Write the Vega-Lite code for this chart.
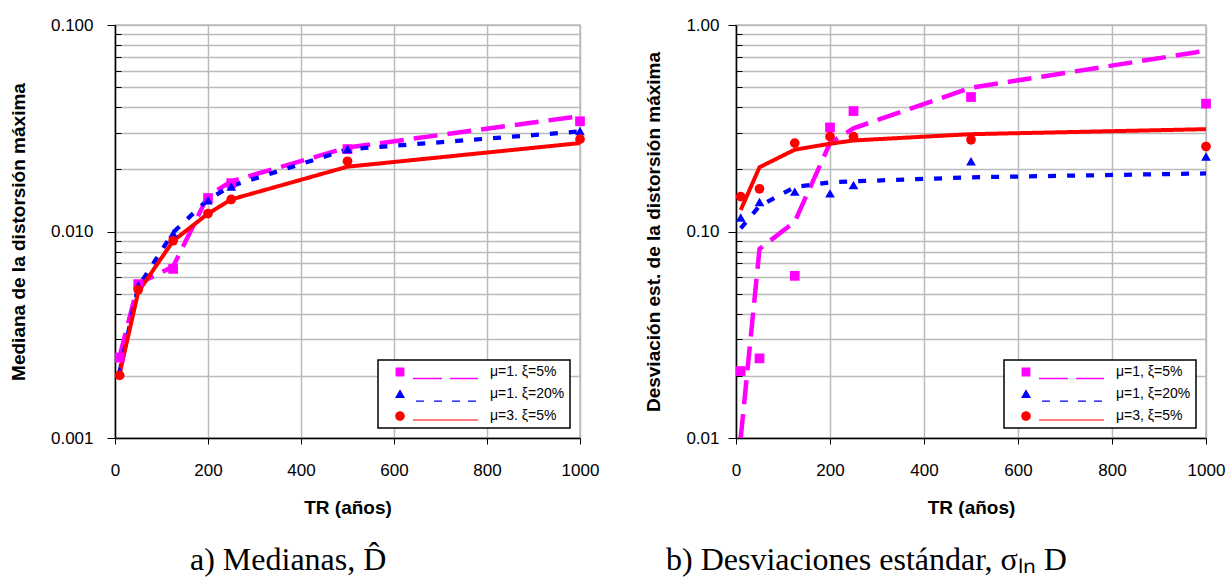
{
  "$schema": "https://vega.github.io/schema/vega-lite/v6.json",
  "padding": {"left": 8, "top": 15, "right": 3, "bottom": 0},
  "background": "white",
  "config": {
    "font": "Liberation Sans",
    "view": {"stroke": "#bbbbbb", "strokeWidth": 1.5},
    "axis": {
      "labelFont": "Liberation Sans", "labelFontSize": 17, "labelColor": "black",
      "titleFont": "Liberation Sans", "titleFontSize": 19, "titleFontWeight": "bold", "titleColor": "black",
      "gridColor": "#bbbbbb", "gridWidth": 1.5, "gridOpacity": 1,
      "domainColor": "black", "domainWidth": 1.5, "tickColor": "black", "tickWidth": 1, "tickSize": 6
    },
    "legend": {
      "orient": "bottom-right", "offset": 10, "strokeColor": "black", "strokeWidth": 1.5, "fillColor": "white",
      "padding": 5, "symbolSize": 64, "symbolOffset": 10, "labelOffset": 83,
      "labelFont": "Liberation Sans", "labelFontSize": 14, "labelColor": "black", "rowPadding": 7, "symbolOpacity": 1, "symbolStrokeWidth": 0
    }
  },
  "datasets": {
    "la": [
      {"s": "μ=1. ξ=5%", "x": 10, "y": 0.00249}, {"s": "μ=1. ξ=5%", "x": 50, "y": 0.0056}, {"s": "μ=1. ξ=5%", "x": 125, "y": 0.00676}, {"s": "μ=1. ξ=5%", "x": 200, "y": 0.0149}, {"s": "μ=1. ξ=5%", "x": 250, "y": 0.0175}, {"s": "μ=1. ξ=5%", "x": 500, "y": 0.0255}, {"s": "μ=1. ξ=5%", "x": 1000, "y": 0.0362},
      {"s": "μ=1. ξ=20%", "x": 10, "y": 0.0021}, {"s": "μ=1. ξ=20%", "x": 50, "y": 0.0054}, {"s": "μ=1. ξ=20%", "x": 125, "y": 0.0099}, {"s": "μ=1. ξ=20%", "x": 200, "y": 0.0143}, {"s": "μ=1. ξ=20%", "x": 250, "y": 0.0166}, {"s": "μ=1. ξ=20%", "x": 500, "y": 0.025}, {"s": "μ=1. ξ=20%", "x": 1000, "y": 0.0305},
      {"s": "μ=3. ξ=5%", "x": 10, "y": 0.00205}, {"s": "μ=3. ξ=5%", "x": 50, "y": 0.0051}, {"s": "μ=3. ξ=5%", "x": 125, "y": 0.009}, {"s": "μ=3. ξ=5%", "x": 200, "y": 0.0122}, {"s": "μ=3. ξ=5%", "x": 250, "y": 0.0143}, {"s": "μ=3. ξ=5%", "x": 500, "y": 0.0206}, {"s": "μ=3. ξ=5%", "x": 1000, "y": 0.0268}
    ],
    "pa": [
      {"s": "μ=1. ξ=5%", "x": 10, "y": 0.00245}, {"s": "μ=1. ξ=5%", "x": 50, "y": 0.00556}, {"s": "μ=1. ξ=5%", "x": 125, "y": 0.00659}, {"s": "μ=1. ξ=5%", "x": 200, "y": 0.01452}, {"s": "μ=1. ξ=5%", "x": 250, "y": 0.01714}, {"s": "μ=1. ξ=5%", "x": 500, "y": 0.02506}, {"s": "μ=1. ξ=5%", "x": 1000, "y": 0.0342},
      {"s": "μ=1. ξ=20%", "x": 10, "y": 0.0021}, {"s": "μ=1. ξ=20%", "x": 50, "y": 0.00548}, {"s": "μ=1. ξ=20%", "x": 125, "y": 0.00978}, {"s": "μ=1. ξ=20%", "x": 200, "y": 0.01415}, {"s": "μ=1. ξ=20%", "x": 250, "y": 0.01652}, {"s": "μ=1. ξ=20%", "x": 500, "y": 0.0251}, {"s": "μ=1. ξ=20%", "x": 1000, "y": 0.0307},
      {"s": "μ=3. ξ=5%", "x": 10, "y": 0.00201}, {"s": "μ=3. ξ=5%", "x": 50, "y": 0.00522}, {"s": "μ=3. ξ=5%", "x": 125, "y": 0.00902}, {"s": "μ=3. ξ=5%", "x": 200, "y": 0.01222}, {"s": "μ=3. ξ=5%", "x": 250, "y": 0.01429}, {"s": "μ=3. ξ=5%", "x": 500, "y": 0.02188}, {"s": "μ=3. ξ=5%", "x": 1000, "y": 0.028}
    ],
    "lb": [
      {"s": "μ=1, ξ=5%", "x": 10, "y": 0.01}, {"s": "μ=1, ξ=5%", "x": 50, "y": 0.0824}, {"s": "μ=1, ξ=5%", "x": 125, "y": 0.1115}, {"s": "μ=1, ξ=5%", "x": 200, "y": 0.268}, {"s": "μ=1, ξ=5%", "x": 250, "y": 0.316}, {"s": "μ=1, ξ=5%", "x": 500, "y": 0.497}, {"s": "μ=1, ξ=5%", "x": 1000, "y": 0.75},
      {"s": "μ=1, ξ=20%", "x": 10, "y": 0.1035}, {"s": "μ=1, ξ=20%", "x": 50, "y": 0.133}, {"s": "μ=1, ξ=20%", "x": 125, "y": 0.164}, {"s": "μ=1, ξ=20%", "x": 200, "y": 0.173}, {"s": "μ=1, ξ=20%", "x": 250, "y": 0.175}, {"s": "μ=1, ξ=20%", "x": 500, "y": 0.183}, {"s": "μ=1, ξ=20%", "x": 1000, "y": 0.191},
      {"s": "μ=3, ξ=5%", "x": 10, "y": 0.127}, {"s": "μ=3, ξ=5%", "x": 50, "y": 0.2047}, {"s": "μ=3, ξ=5%", "x": 125, "y": 0.249}, {"s": "μ=3, ξ=5%", "x": 200, "y": 0.266}, {"s": "μ=3, ξ=5%", "x": 250, "y": 0.276}, {"s": "μ=3, ξ=5%", "x": 500, "y": 0.296}, {"s": "μ=3, ξ=5%", "x": 1000, "y": 0.313}
    ],
    "pb": [
      {"s": "μ=1, ξ=5%", "x": 10, "y": 0.0211}, {"s": "μ=1, ξ=5%", "x": 50, "y": 0.0243}, {"s": "μ=1, ξ=5%", "x": 125, "y": 0.061}, {"s": "μ=1, ξ=5%", "x": 200, "y": 0.319}, {"s": "μ=1, ξ=5%", "x": 250, "y": 0.383}, {"s": "μ=1, ξ=5%", "x": 500, "y": 0.448}, {"s": "μ=1, ξ=5%", "x": 1000, "y": 0.416},
      {"s": "μ=1, ξ=20%", "x": 10, "y": 0.117}, {"s": "μ=1, ξ=20%", "x": 50, "y": 0.139}, {"s": "μ=1, ξ=20%", "x": 125, "y": 0.156}, {"s": "μ=1, ξ=20%", "x": 200, "y": 0.153}, {"s": "μ=1, ξ=20%", "x": 250, "y": 0.168}, {"s": "μ=1, ξ=20%", "x": 500, "y": 0.219}, {"s": "μ=1, ξ=20%", "x": 1000, "y": 0.231},
      {"s": "μ=3, ξ=5%", "x": 10, "y": 0.1475}, {"s": "μ=3, ξ=5%", "x": 50, "y": 0.161}, {"s": "μ=3, ξ=5%", "x": 125, "y": 0.268}, {"s": "μ=3, ξ=5%", "x": 200, "y": 0.288}, {"s": "μ=3, ξ=5%", "x": 250, "y": 0.288}, {"s": "μ=3, ξ=5%", "x": 500, "y": 0.278}, {"s": "μ=3, ξ=5%", "x": 1000, "y": 0.258}
    ]
  },
  "hconcat": [
    {
      "width": 465, "height": 413,
      "title": {"text": "a) Medianas, D̂", "orient": "bottom", "anchor": "start", "frame": "group", "dx": 75, "offset": 28, "font": "Liberation Serif", "fontSize": 32, "fontWeight": "normal", "color": "black"},
      "encoding": {
        "x": {"field": "x", "type": "quantitative", "scale": {"domain": [0, 1000], "nice": false},
          "axis": {"values": [0, 200, 400, 600, 800, 1000], "format": "d", "title": "TR (años)", "labelPadding": 18, "titlePadding": 20, "labelFlush": false}},
        "y": {"field": "y", "type": "quantitative", "scale": {"type": "log", "domain": [0.001, 0.1], "nice": false},
          "axis": {"values": [0.001, 0.002, 0.003, 0.004, 0.005, 0.006, 0.007, 0.008, 0.009, 0.01, 0.02, 0.03, 0.04, 0.05, 0.06, 0.07, 0.08, 0.09, 0.1],
            "format": ".3f", "labelExpr": "abs(log(datum.value)/LN10 - round(log(datum.value)/LN10)) < 0.001 ? datum.label : ''",
            "tickSize": {"condition": {"test": "abs(log(datum.value)/LN10 - round(log(datum.value)/LN10)) < 0.001", "value": 8}, "value": -6},
            "title": "Mediana de la distorsión máxima", "labelPadding": 14, "titlePadding": 22, "labelOverlap": false}}
      },
      "layer": [
        {
          "data": {"name": "la"},
          "mark": {"type": "line", "clip": true},
          "encoding": {
            "color": {"field": "s", "type": "nominal", "scale": {"domain": ["μ=1. ξ=5%", "μ=1. ξ=20%", "μ=3. ξ=5%"], "range": ["#ff00ff", "#0000ff", "#ff0000"]}, "legend": null},
            "strokeDash": {"field": "s", "type": "nominal", "scale": {"domain": ["μ=1. ξ=5%", "μ=1. ξ=20%", "μ=3. ξ=5%"], "range": [[24, 10], [8, 11], [1, 0]]}, "legend": null},
            "strokeWidth": {"field": "s", "type": "ordinal", "scale": {"domain": ["μ=1. ξ=5%", "μ=1. ξ=20%", "μ=3. ξ=5%"], "range": [4.5, 4, 1.2]}, "legend": null}
          }
        },
        {
          "data": {"name": "pa"},
          "mark": {"type": "point", "filled": true, "opacity": 1, "size": 95},
          "encoding": {
            "color": {"field": "s", "type": "nominal", "scale": {"domain": ["μ=1. ξ=5%", "μ=1. ξ=20%", "μ=3. ξ=5%"], "range": ["#ff00ff", "#0000ff", "#ff0000"]}, "legend": null},
            "shape": {"field": "s", "type": "nominal", "scale": {"domain": ["μ=1. ξ=5%", "μ=1. ξ=20%", "μ=3. ξ=5%"], "range": ["square", "triangle-up", "circle"]}, "legend": null}
          }
        },
        {
          "data": {"name": "pa"},
          "transform": [{"filter": "datum.x == 125"}],
          "mark": {"type": "point", "filled": true, "opacity": 0, "size": 1},
          "encoding": {
            "color": {"field": "s", "type": "nominal", "scale": {"domain": ["μ=1. ξ=5%", "μ=1. ξ=20%", "μ=3. ξ=5%"], "range": ["#ff00ff", "#0000ff", "#ff0000"]}, "legend": {"title": null}},
            "shape": {"field": "s", "type": "nominal",
              "scale": {"domain": ["μ=1. ξ=5%", "μ=1. ξ=20%", "μ=3. ξ=5%"],
                "range": ["M-1.1,-1.1H1.1V1.1H-1.1ZM3.25,1.45H10.5V1.8H3.25ZM12.5,1.45H19.5V1.8H12.5Z", "M0,-1.2L1.25,1H-1.25ZM4,1.6H6V1.95H4ZM8.5,1.6H10.5V1.95H8.5ZM13,1.6H15H13ZM13,1.6H15V1.95H13ZM17,1.6H19V1.95H17Z", "M-1.2,0A1.2,1.2,0,1,0,1.2,0A1.2,1.2,0,1,0,-1.2,0ZM3.25,0.85H19.5V1.15H3.25Z"]},
              "legend": {"title": null}}
          }
        }
      ],
      "resolve": {"scale": {"shape": "independent", "color": "independent"}, "legend": {"shape": "independent", "color": "independent"}}
    },
    {
      "width": 470, "height": 413,
      "title": {"text": "b) Desviaciones estándar, σₗₙ D", "orient": "bottom", "anchor": "start", "frame": "group", "dx": -70, "offset": 28, "font": "Liberation Serif", "fontSize": 32, "fontWeight": "normal", "color": "black"},
      "encoding": {
        "x": {"field": "x", "type": "quantitative", "scale": {"domain": [0, 1000], "nice": false},
          "axis": {"values": [0, 200, 400, 600, 800, 1000], "format": "d", "title": "TR (años)", "labelPadding": 18, "titlePadding": 20, "labelFlush": false}},
        "y": {"field": "y", "type": "quantitative", "scale": {"type": "log", "domain": [0.01, 1], "nice": false},
          "axis": {"values": [0.01, 0.02, 0.03, 0.04, 0.05, 0.06, 0.07, 0.08, 0.09, 0.1, 0.2, 0.3, 0.4, 0.5, 0.6, 0.7, 0.8, 0.9, 1],
            "format": ".2f", "labelExpr": "abs(log(datum.value)/LN10 - round(log(datum.value)/LN10)) < 0.001 ? datum.label : ''",
            "tickSize": {"condition": {"test": "abs(log(datum.value)/LN10 - round(log(datum.value)/LN10)) < 0.001", "value": 8}, "value": -6},
            "title": "Desviación est. de la distorsión máxima", "labelPadding": 9, "titlePadding": 22, "labelOverlap": false}}
      },
      "layer": [
        {
          "data": {"name": "lb"},
          "mark": {"type": "line", "clip": true},
          "encoding": {
            "color": {"field": "s", "type": "nominal", "scale": {"domain": ["μ=1, ξ=5%", "μ=1, ξ=20%", "μ=3, ξ=5%"], "range": ["#ff00ff", "#0000ff", "#ff0000"]}, "legend": null},
            "strokeDash": {"field": "s", "type": "nominal", "scale": {"domain": ["μ=1, ξ=5%", "μ=1, ξ=20%", "μ=3, ξ=5%"], "range": [[24, 10], [8, 11], [1, 0]]}, "legend": null},
            "strokeWidth": {"field": "s", "type": "ordinal", "scale": {"domain": ["μ=1, ξ=5%", "μ=1, ξ=20%", "μ=3, ξ=5%"], "range": [4.5, 4, 1.2]}, "legend": null}
          }
        },
        {
          "data": {"name": "pb"},
          "mark": {"type": "point", "filled": true, "opacity": 1, "size": 95},
          "encoding": {
            "color": {"field": "s", "type": "nominal", "scale": {"domain": ["μ=1, ξ=5%", "μ=1, ξ=20%", "μ=3, ξ=5%"], "range": ["#ff00ff", "#0000ff", "#ff0000"]}, "legend": null},
            "shape": {"field": "s", "type": "nominal", "scale": {"domain": ["μ=1, ξ=5%", "μ=1, ξ=20%", "μ=3, ξ=5%"], "range": ["square", "triangle-up", "circle"]}, "legend": null}
          }
        },
        {
          "data": {"name": "pb"},
          "transform": [{"filter": "datum.x == 125"}],
          "mark": {"type": "point", "filled": true, "opacity": 0, "size": 1},
          "encoding": {
            "color": {"field": "s", "type": "nominal", "scale": {"domain": ["μ=1, ξ=5%", "μ=1, ξ=20%", "μ=3, ξ=5%"], "range": ["#ff00ff", "#0000ff", "#ff0000"]}, "legend": {"title": null}},
            "shape": {"field": "s", "type": "nominal",
              "scale": {"domain": ["μ=1, ξ=5%", "μ=1, ξ=20%", "μ=3, ξ=5%"],
                "range": ["M-1.1,-1.1H1.1V1.1H-1.1ZM3.25,1.45H10.5V1.8H3.25ZM12.5,1.45H19.5V1.8H12.5Z", "M0,-1.2L1.25,1H-1.25ZM4,1.6H6V1.95H4ZM8.5,1.6H10.5V1.95H8.5ZM13,1.6H15V1.95H13ZM17,1.6H19V1.95H17Z", "M-1.2,0A1.2,1.2,0,1,0,1.2,0A1.2,1.2,0,1,0,-1.2,0ZM3.25,0.85H19.5V1.15H3.25Z"]},
              "legend": {"title": null}}
          }
        }
      ],
      "resolve": {"scale": {"shape": "independent", "color": "independent"}, "legend": {"shape": "independent", "color": "independent"}}
    }
  ],
  "spacing": 44,
  "resolve": {"scale": {"color": "independent", "shape": "independent", "strokeDash": "independent", "strokeWidth": "independent"}, "legend": {"shape": "independent", "color": "independent"}}
}
